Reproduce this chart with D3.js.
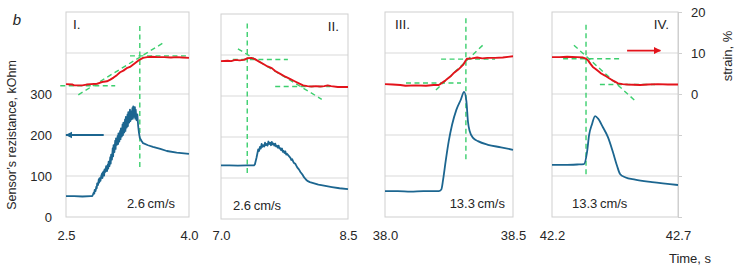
<!DOCTYPE html>
<html><head><meta charset="utf-8">
<script src="https://cdn.jsdelivr.net/npm/d3@7/dist/d3.min.js"></script>
<style>
html,body{margin:0;padding:0;background:#fff;}
svg{display:block;font-family:"Liberation Sans",Arial,sans-serif;}
</style></head>
<body><svg id="c" width="735" height="271"></svg>
<script>
// ---------- DATA ----------
const panelNames = ["I.", "II.", "III.", "IV."];
const speedLabels = ["2.6\u2009cm/s", "2.6\u2009cm/s", "13.3\u2009cm/s", "13.3\u2009cm/s"];
const timeDomains = [[2.5, 4.0], [7.0, 8.5], [38.0, 38.5], [42.2, 42.7]];
const timeTickLabels = [["2.5", "4.0"], ["7.0", "8.5"], ["38.0", "38.5"], ["42.2", "42.7"]];
const resDomain = [0, 500];
const strainDomain = [-30, 20];
const resTickValues = [0, 100, 200, 300];
const resGridValues = [100, 200, 300, 400];
const strainTickValues = [0, 10, 20];
const strainTickMarks = [20, 10, 0, -10, -20, -30];

// resistance (kOhm) vs time (s)
const res1 = [[2.50,51],[2.60,51],[2.70,50],[2.80,51],[2.82,51],[2.83,55],[2.84,60],[2.845,57],[2.85,66],[2.86,63],[2.87,74],[2.875,70],[2.88,82],[2.89,78],[2.90,92],[2.905,84],[2.91,95],[2.92,88],[2.93,100],[2.94,106],[2.945,95],[2.95,108],[2.96,112],[2.965,101],[2.97,116],[2.98,110],[2.99,124],[3.00,112],[3.01,128],[3.015,118],[3.02,135],[3.03,124],[3.04,146],[3.045,130],[3.05,152],[3.06,140],[3.07,168],[3.075,148],[3.08,175],[3.09,158],[3.10,186],[3.105,166],[3.11,192],[3.12,176],[3.13,198],[3.135,178],[3.14,204],[3.15,184],[3.16,210],[3.165,190],[3.17,216],[3.18,196],[3.19,226],[3.195,200],[3.20,230],[3.21,206],[3.22,238],[3.225,210],[3.23,244],[3.24,218],[3.25,250],[3.255,222],[3.26,256],[3.27,230],[3.28,262],[3.285,234],[3.29,258],[3.30,238],[3.31,266],[3.315,240],[3.32,270],[3.33,244],[3.34,268],[3.345,240],[3.35,262],[3.36,236],[3.37,250],[3.38,222],[3.39,205],[3.40,193],[3.42,186],[3.44,180],[3.50,175],[3.56,171],[3.65,166],[3.73,161],[3.85,157],[4.00,154]];
const res2 = [[7.00,131],[7.10,131],[7.20,130],[7.30,131],[7.39,131],[7.40,133],[7.42,150],[7.44,170],[7.45,166],[7.46,176],[7.47,172],[7.48,183],[7.49,176],[7.50,180],[7.51,177],[7.52,186],[7.53,180],[7.54,183],[7.55,179],[7.56,189],[7.57,183],[7.58,186],[7.59,180],[7.60,188],[7.61,182],[7.62,184],[7.63,179],[7.64,184],[7.65,177],[7.66,179],[7.67,174],[7.68,179],[7.69,172],[7.70,173],[7.71,168],[7.72,172],[7.73,164],[7.74,166],[7.75,161],[7.76,165],[7.77,157],[7.78,159],[7.80,154],[7.82,149],[7.83,144],[7.84,146],[7.86,137],[7.88,134],[7.90,126],[7.92,121],[7.94,114],[7.96,109],[7.98,102],[8.00,97],[8.02,93],[8.05,90],[8.10,87],[8.15,84],[8.20,82],[8.31,78],[8.40,75],[8.50,73]];
const res3 = [[38.00,63],[38.05,63],[38.10,62],[38.15,63],[38.21,63],[38.22,67],[38.227,91],[38.237,136],[38.249,185],[38.262,225],[38.279,262],[38.296,286],[38.309,305],[38.318,282],[38.324,233],[38.331,209],[38.344,193],[38.363,185],[38.402,176],[38.453,170],[38.50,164]];
const res4 = [[42.20,127],[42.25,127],[42.30,128],[42.327,129],[42.339,158],[42.347,199],[42.359,227],[42.371,246],[42.383,240],[42.402,219],[42.422,195],[42.442,158],[42.458,125],[42.47,105],[42.49,97],[42.53,91],[42.597,85],[42.70,78]];

// strain (%) vs time (s)
const str1 = [[2.50,2.4],[2.58,2.3],[2.60,2.1],[2.70,2.1],[2.75,2.3],[2.80,2.4],[2.88,2.5],[2.92,2.8],[2.96,3.0],[3.00,3.1],[3.04,3.5],[3.08,4.0],[3.12,4.6],[3.16,5.3],[3.20,5.7],[3.24,6.3],[3.28,6.6],[3.32,7.2],[3.36,7.8],[3.40,8.4],[3.44,8.8],[3.49,9.0],[3.55,9.1],[3.62,9.0],[3.70,9.0],[3.78,8.9],[3.85,9.0],[3.92,8.9],[4.00,8.8]];
const str2 = [[7.00,8.5],[7.08,8.6],[7.12,8.5],[7.17,8.8],[7.22,8.7],[7.27,8.8],[7.31,9.2],[7.36,9.3],[7.40,9.0],[7.45,8.4],[7.50,7.8],[7.55,7.2],[7.60,6.8],[7.64,6.1],[7.70,5.4],[7.76,4.7],[7.82,4.1],[7.87,3.6],[7.92,3.1],[7.97,2.6],[8.02,2.4],[8.07,2.3],[8.12,2.4],[8.17,2.3],[8.22,2.4],[8.26,2.6],[8.30,2.4],[8.38,2.2],[8.50,2.2]];
const str3 = [[38.00,2.4],[38.03,2.3],[38.06,2.2],[38.08,2.0],[38.12,2.1],[38.16,2.0],[38.19,2.2],[38.21,2.2],[38.22,2.6],[38.234,3.2],[38.245,3.8],[38.258,4.4],[38.27,5.2],[38.285,5.9],[38.295,6.5],[38.305,7.1],[38.313,7.9],[38.32,8.6],[38.34,8.7],[38.36,8.9],[38.38,8.7],[38.40,8.8],[38.43,8.8],[38.46,8.9],[38.50,9.2]];
const str4 = [[42.20,9.0],[42.23,9.0],[42.26,9.1],[42.30,9.0],[42.323,8.9],[42.335,8.6],[42.343,8.2],[42.352,7.4],[42.362,6.6],[42.373,6.1],[42.383,5.6],[42.395,5.0],[42.41,4.5],[42.425,3.9],[42.438,3.4],[42.45,3.0],[42.462,2.6],[42.48,2.4],[42.50,2.3],[42.55,2.2],[42.58,2.3],[42.62,2.4],[42.66,2.3],[42.70,2.3]];

// dashed tangent guides (strain units), [[t1,s1],[t2,s2]]
const guides1 = [[[3.40,16.6],[3.40,-18.5]],[[2.43,2.0],[3.10,2.0]],[[3.28,9.3],[4.00,9.3]],[[2.65,-0.2],[3.68,12.4]]];
const guides2 = [[[7.31,17.7],[7.31,-19.3]],[[7.14,8.9],[7.79,8.9]],[[7.64,2.3],[8.29,2.3]],[[7.20,11.5],[8.19,-0.8]]];
const guides3 = [[[38.316,18.5],[38.316,-16.3]],[[38.082,2.7],[38.297,2.7]],[[38.219,8.5],[38.43,8.5]],[[38.199,1.0],[38.387,12.2]]];
const guides4 = [[[42.335,16.9],[42.335,-19.7]],[[42.244,8.6],[42.478,8.6]],[[42.39,2.3],[42.609,2.3]],[[42.287,11.9],[42.529,-1.6]]];

// direction arrows: [from, to]
const blueArrow = [[2.96,200],[2.50,200]];   // panel I, resistance axis
const redArrow = [[42.498,10.6],[42.63,10.6]]; // panel IV, strain axis

const resSeries = [res1, res2, res3, res4];
const strSeries = [str1, str2, str3, str4];
const guideSeries = [guides1, guides2, guides3, guides4];

// ---------- LAYOUT ----------
const layout = [
  {x0:66, x1:189, dy:0, nameX:73, nameAnchor:"start", spX:175, spAnchor:"end", curve:d3.curveLinear},
  {x0:221, x1:348, dy:2, nameX:339, nameAnchor:"end", spX:233, spAnchor:"start", curve:d3.curveLinear},
  {x0:385, x1:513, dy:0, nameX:395, nameAnchor:"start", spX:505, spAnchor:"end", curve:d3.curveMonotoneX},
  {x0:552, x1:678, dy:0, nameX:669, nameAnchor:"end", spX:572, spAnchor:"start", curve:d3.curveMonotoneX}
];
const plotTop = 12, plotBottom = 217;
const BLUE = "#1c6690", RED = "#e3131b", GREEN = "#3ccf6e", GRID = "#d9d9d9", BORDER = "#cfcfcf", TXT = "#262626";

const svg = d3.select("#c");
const defs = svg.append("defs");
defs.append("marker").attr("id","mb").attr("viewBox","0 0 10 10").attr("refX",9).attr("refY",5)
  .attr("markerWidth",4).attr("markerHeight",4).attr("orient","auto")
  .append("path").attr("d","M0,0L10,5L0,10Z").attr("fill",BLUE);
defs.append("marker").attr("id","mr").attr("viewBox","0 0 10 10").attr("refX",9).attr("refY",5)
  .attr("markerWidth",4).attr("markerHeight",4).attr("orient","auto")
  .append("path").attr("d","M0,0L10,5L0,10Z").attr("fill",RED);

layout.forEach((L, i) => {
  const g = svg.append("g").attr("transform", `translate(0,${L.dy})`);
  const x = d3.scaleLinear().domain(timeDomains[i]).range([L.x0, L.x1]);
  const yR = d3.scaleLinear().domain(resDomain).range([plotBottom, plotTop]);
  const yS = d3.scaleLinear().domain(strainDomain).range([plotBottom, plotTop]);

  // grid
  g.selectAll("line.grid").data(resGridValues).enter().append("line")
    .attr("x1", L.x0).attr("x2", L.x1).attr("y1", d => yR(d)).attr("y2", d => yR(d))
    .attr("stroke", GRID).attr("stroke-width", 1);
  g.append("rect").attr("x", L.x0).attr("y", plotTop).attr("width", L.x1 - L.x0).attr("height", plotBottom - plotTop)
    .attr("fill", "none").attr("stroke", BORDER).attr("stroke-width", 1);

  // guides
  g.selectAll("line.guide").data(guideSeries[i]).enter().append("line")
    .attr("x1", d => x(d[0][0])).attr("y1", d => yS(d[0][1]))
    .attr("x2", d => x(d[1][0])).attr("y2", d => yS(d[1][1]))
    .attr("stroke", GREEN).attr("stroke-width", 1.4).attr("stroke-dasharray", "5,3.5");

  // resistance
  g.append("path").datum(resSeries[i])
    .attr("d", d3.line().x(d => x(d[0])).y(d => yR(d[1])).curve(L.curve))
    .attr("fill", "none").attr("stroke", BLUE).attr("stroke-width", 1.8).attr("stroke-linejoin", "round");
  // strain
  g.append("path").datum(strSeries[i])
    .attr("d", d3.line().x(d => x(d[0])).y(d => yS(d[1])).curve(d3.curveLinear))
    .attr("fill", "none").attr("stroke", RED).attr("stroke-width", 1.9).attr("stroke-linejoin", "round");

  // labels
  g.append("text").attr("x", L.nameX).attr("y", 29).attr("text-anchor", L.nameAnchor)
    .attr("font-size", 13.5).attr("fill", TXT).text(panelNames[i]);
  g.append("text").attr("x", L.spX).attr("y", 208).attr("text-anchor", L.spAnchor)
    .attr("font-size", 13).attr("fill", TXT).text(speedLabels[i]);

  // x tick labels
  const xa = d3.axisBottom(x).tickValues(timeDomains[i]).tickSize(0)
    .tickFormat((d, k) => timeTickLabels[i][k]);
  const ax = svg.append("g").attr("transform", `translate(0,228)`).call(xa);
  ax.select(".domain").remove();
  ax.selectAll("text").attr("font-size", 13).attr("fill", TXT).attr("font-family", "Liberation Sans, Arial, sans-serif");

  if (i === 0) {
    g.append("line").datum(blueArrow)
      .attr("x1", d => x(d[0][0])).attr("y1", d => yR(d[0][1]))
      .attr("x2", d => x(d[1][0])).attr("y2", d => yR(d[1][1]))
      .attr("stroke", BLUE).attr("stroke-width", 1.8).attr("marker-end", "url(#mb)");
    const la = d3.axisLeft(yR).tickValues(resTickValues).tickSize(0).tickPadding(14);
    const al = svg.append("g").attr("transform", `translate(${L.x0},0)`).call(la);
    al.select(".domain").remove();
    al.selectAll("text").attr("font-size", 13).attr("fill", TXT).attr("font-family", "Liberation Sans, Arial, sans-serif");
  }
  if (i === 3) {
    g.append("line").datum(redArrow)
      .attr("x1", d => x(d[0][0])).attr("y1", d => yS(d[0][1]))
      .attr("x2", d => x(d[1][0])).attr("y2", d => yS(d[1][1]))
      .attr("stroke", RED).attr("stroke-width", 1.8).attr("marker-end", "url(#mr)");
    const ra = d3.axisRight(yS).tickValues(strainTickMarks).tickSize(4).tickPadding(9)
      .tickFormat(d => strainTickValues.includes(d) ? d : "");
    const ar = svg.append("g").attr("transform", `translate(${L.x1},0)`).call(ra);
    ar.select(".domain").attr("stroke", BORDER);
    ar.selectAll("line").attr("stroke", BORDER);
    ar.selectAll("text").attr("font-size", 13).attr("fill", TXT).attr("font-family", "Liberation Sans, Arial, sans-serif");
  }
});

// titles
svg.append("text").attr("x", 17).attr("y", 25).attr("text-anchor", "middle").attr("font-size", 15)
  .attr("font-style", "italic").attr("fill", TXT).text("b");
svg.append("text").attr("transform", "translate(16,135) rotate(-90)").attr("text-anchor", "middle")
  .attr("font-size", 12.5).attr("fill", TXT).text("Sensor\u2019s rezistance, kOhm");
svg.append("text").attr("transform", "translate(732,56) rotate(-90)").attr("text-anchor", "middle")
  .attr("font-size", 13).attr("fill", TXT).text("strain, %");
svg.append("text").attr("x", 690).attr("y", 263).attr("text-anchor", "middle")
  .attr("font-size", 13).attr("fill", TXT).text("Time, s");
</script></body></html>
